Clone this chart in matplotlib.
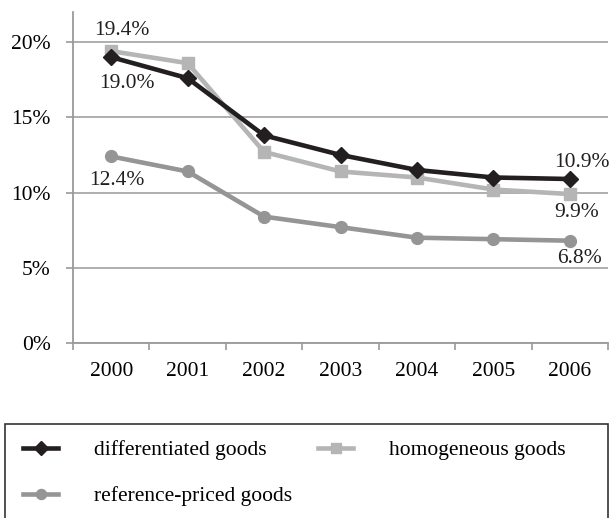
import matplotlib
matplotlib.use('Agg')
import matplotlib.pyplot as plt
from matplotlib.patches import Rectangle
from matplotlib.ticker import FixedLocator, FuncFormatter

plt.rcParams['font.family'] = ['Liberation Serif', 'DejaVu Serif']

years = ['2000', '2001', '2002', '2003', '2004', '2005', '2006']
differentiated = [19.0, 17.6, 13.8, 12.5, 11.5, 11.0, 10.9]
homogeneous = [19.4, 18.6, 12.7, 11.4, 11.0, 10.2, 9.9]
reference = [12.4, 11.4, 8.4, 7.7, 7.0, 6.9, 6.8]

c_diff = '#231f20'
c_homo = '#b5b5b5'
c_ref = '#959595'
axis_c = '#9a9a9a'
fs = 15.5

fig = plt.figure(figsize=(6.11, 5.18), dpi=100)
ax = fig.add_axes([73 / 611, 1 - 343 / 518, 535 / 611, 331 / 518])

x = list(range(len(years)))
l_diff, = ax.plot(x, differentiated, color=c_diff, lw=3.3, marker='D', ms=8, zorder=5)
l_homo, = ax.plot(x, homogeneous, color=c_homo, lw=3.3, marker='s', ms=8.5, zorder=4)
l_ref, = ax.plot(x, reference, color=c_ref, lw=3.3, marker='o', ms=8.5, zorder=3)

ax.set_xlim(-0.5, 6.5)
ax.set_ylim(0, 22)
ax.set_yticks([0, 5, 10, 15, 20])
ax.yaxis.set_major_formatter(FuncFormatter(lambda v, p: '%d%%' % v))
ax.set_xticks(x)
ax.set_xticklabels(years)
ax.xaxis.set_minor_locator(FixedLocator([i - 0.5 for i in range(8)]))
ax.tick_params(axis='x', which='major', length=0, pad=14, labelsize=fs)
ax.tick_params(axis='x', which='minor', length=5, width=1.2, color=axis_c, direction='out')
ax.tick_params(axis='y', length=5, width=1.2, color=axis_c, pad=11, labelsize=fs)
ax.grid(axis='y', color='#a8a8a8', lw=1.3)
ax.set_axisbelow(True)
for s in ['top', 'right']:
    ax.spines[s].set_visible(False)
for s in ['left', 'bottom']:
    ax.spines[s].set_color(axis_c)
    ax.spines[s].set_linewidth(1.3)

# data labels
labels = [
    (0, homogeneous[0], (8, 15)),
    (0, differentiated[0], (11, -19)),
    (0, reference[0], (4, -17)),
    (6, differentiated[6], (9, 12)),
    (6, homogeneous[6], (5, -13)),
    (6, reference[6], (7, -13)),
]
for xi, v, off in labels:
    ax.annotate('%.1f%%' % v, (xi, v), xytext=off, textcoords='offset points',
                ha='center', va='center', fontsize=fs, color='#231f20')

# legend box
fig.patches.append(Rectangle((5 / 611, -0.02), 603 / 611, 0.02 + 1 - 424 / 518,
                             transform=fig.transFigure, fill=False,
                             edgecolor='#333333', lw=1.2))
fig.legend([l_diff, l_ref, l_homo],
           ['differentiated goods', 'reference-priced goods', 'homogeneous goods'],
           ncol=2, frameon=False, loc='upper left',
           bbox_to_anchor=(4 / 611, 1 - 421 / 518), fontsize=fs,
           handlelength=1.6, handletextpad=1.7, columnspacing=1.2,
           labelspacing=1.2, markerscale=0.85)

fig.savefig('out.png', dpi=100)
